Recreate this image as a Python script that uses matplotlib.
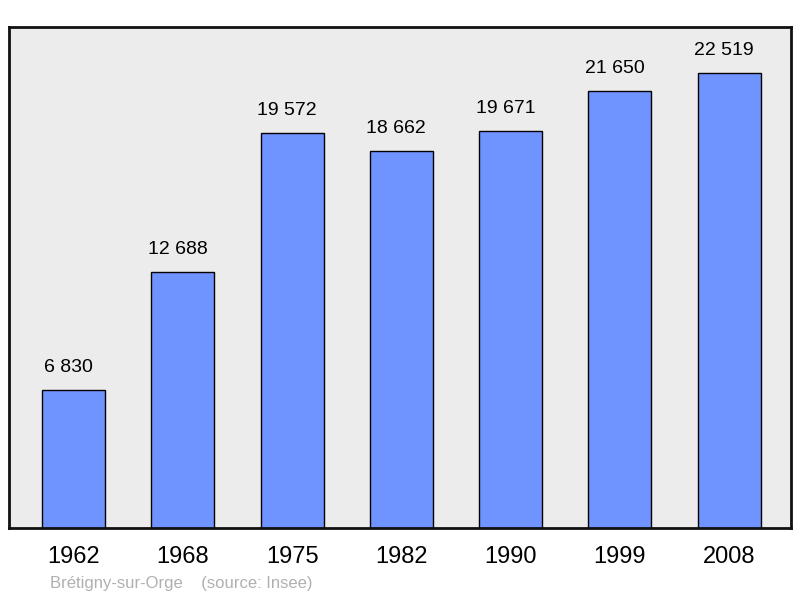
import matplotlib.pyplot as plt

years = ["1962", "1968", "1975", "1982", "1990", "1999", "2008"]
population = [6830, 12688, 19572, 18662, 19671, 21650, 22519]
value_labels = ["6 830", "12 688", "19 572", "18 662", "19 671", "21 650", "22 519"]

plt.rcParams['font.family'] = ['Liberation Sans', 'DejaVu Sans']

fig = plt.figure(figsize=(8, 5.98), dpi=100)
ax = fig.add_axes([0.01125, 0.117, 0.9775, 0.838])
ax.set_facecolor("#ececec")

x = list(range(len(years)))
ax.bar(x, population, width=0.576, color="#7094ff",
       edgecolor="black", linewidth=1.0, zorder=2)

# value above each bar (slightly left of centre, as in the original)
for xi, val, lab in zip(x, population, value_labels):
    ax.annotate(lab, (xi, val), xytext=(-3.6, 10), textcoords="offset points",
                ha="center", va="bottom", fontsize=14, color="black")

ax.set_xlim(-0.59, 6.565)
ax.set_ylim(0, 24800)
ax.set_xticks(x)
ax.set_xticklabels(years, fontsize=17)
ax.tick_params(axis="x", length=0, pad=13)
ax.set_yticks([])
for s in ax.spines.values():
    s.set_linewidth(2)
    s.set_color("#111111")

fig.text(0.062, 0.012, "Brétigny-sur-Orge    (source: Insee)", fontsize=12,
         color="#b0b0b0", ha="left", va="bottom")

fig.savefig("out.png", dpi=100)
